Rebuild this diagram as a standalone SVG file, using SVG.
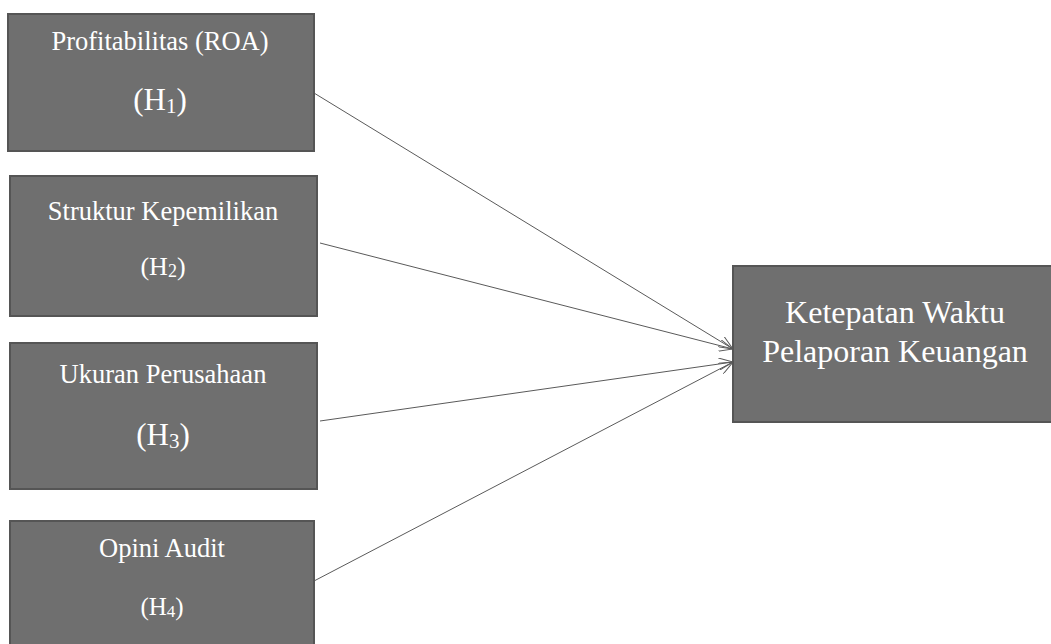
<svg xmlns="http://www.w3.org/2000/svg" width="1051" height="644" viewBox="0 0 1051 644">
<style>
.box{fill:#6f6f6f;stroke:#555;stroke-width:2}
.t{font-family:"Liberation Serif","Times New Roman",serif;fill:#fff;text-anchor:middle}
.c{stroke:#5a5a5a;stroke-width:1;fill:none;marker-end:url(#arr)}
</style>
<defs>
<marker id="arr" viewBox="0 0 14 12" refX="14" refY="6" markerWidth="14" markerHeight="12" markerUnits="userSpaceOnUse" orient="auto">
<polyline points="0,0 14,6 0,12" fill="none" stroke="#5a5a5a" stroke-width="1"/>
</marker>
</defs>
<rect width="1051" height="644" fill="#fff"/>
<g id="connectors">
<line class="c" x1="314" y1="93" x2="733" y2="349"/>
<line class="c" x1="320" y1="243" x2="733" y2="349"/>
<line class="c" x1="320" y1="421" x2="733" y2="362"/>
<line class="c" x1="314" y1="581" x2="733" y2="362"/>
</g>
<g id="n1">
<rect class="box" x="8" y="14" width="306" height="137"/>
<text class="t" x="160" y="50" font-size="26.5">Profitabilitas (ROA)</text>
<text class="t" x="160" y="110" font-size="31">(H<tspan font-size="21" dy="3">1</tspan><tspan dy="-3">)</tspan></text>
</g>
<g id="n2">
<rect class="box" x="10" y="176" width="307" height="140"/>
<text class="t" x="163" y="220" font-size="26.5">Struktur Kepemilikan</text>
<text class="t" x="163" y="275" font-size="26">(H<tspan font-size="18" dy="2">2</tspan><tspan dy="-2">)</tspan></text>
</g>
<g id="n3">
<rect class="box" x="10" y="343" width="307" height="146"/>
<text class="t" x="163" y="383" font-size="26.5">Ukuran Perusahaan</text>
<text class="t" x="163" y="445" font-size="31">(H<tspan font-size="21" dy="3">3</tspan><tspan dy="-3">)</tspan></text>
</g>
<g id="n4">
<rect class="box" x="10" y="521" width="304" height="130"/>
<text class="t" x="162" y="557" font-size="26.5">Opini Audit</text>
<text class="t" x="162" y="615" font-size="25">(H<tspan font-size="17" dy="2">4</tspan><tspan dy="-2">)</tspan></text>
</g>
<g id="n5">
<rect class="box" x="733" y="266" width="330" height="156"/>
<text class="t" x="895" y="323" font-size="32">Ketepatan Waktu</text>
<text class="t" x="895" y="362" font-size="32">Pelaporan Keuangan</text>
</g>
</svg>
